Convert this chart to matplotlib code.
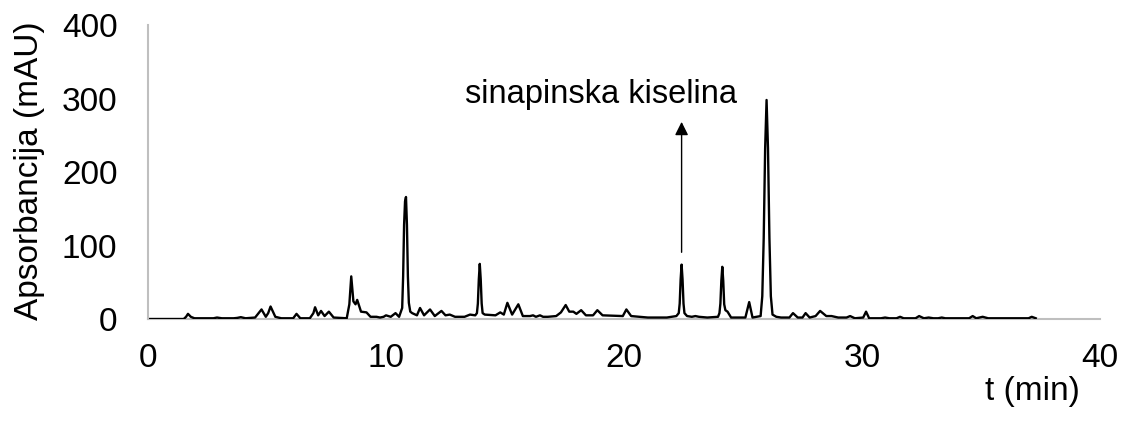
import matplotlib.pyplot as plt

plt.rcParams['font.family'] = ['Liberation Sans', 'DejaVu Sans']

# chromatogram trace (time in min, absorbance in mAU)
t = [0, 1.5, 1.6, 1.68, 1.8, 1.95, 2.5, 2.75, 2.9, 3.1, 3.6, 3.75, 3.9, 4.1, 4.5, 4.65,
     4.77, 4.95, 5.05, 5.15, 5.35, 5.6, 5.9, 6.1, 6.24, 6.4, 6.8, 6.95, 7.02, 7.15, 7.27,
     7.42, 7.6, 7.8, 8.35, 8.46, 8.54, 8.63, 8.72, 8.79, 8.95, 9.18, 9.35, 9.6, 9.75,
     9.9, 10.0, 10.2, 10.4, 10.55, 10.68, 10.72, 10.76, 10.80, 10.84, 10.88, 10.92,
     10.96, 11.02, 11.1, 11.3, 11.43, 11.6, 11.85, 12.05, 12.33, 12.5, 12.68, 12.9,
     13.3, 13.53, 13.75, 13.82, 13.86, 13.9, 13.94, 13.98, 14.02, 14.06, 14.15, 14.6,
     14.8, 14.95, 15.1, 15.3, 15.56, 15.75, 16.05, 16.18, 16.3, 16.47, 16.6, 16.8, 17.15,
     17.35, 17.55, 17.7, 17.87, 18.0, 18.2, 18.4, 18.7, 18.88, 19.1, 19.95, 20.1, 20.3,
     21.0, 21.8, 22.2, 22.3, 22.34, 22.38, 22.42, 22.46, 22.5, 22.54, 22.65, 22.85,
     23.0, 23.15, 23.5, 23.95, 24.01, 24.05, 24.09, 24.13, 24.17, 24.21, 24.26, 24.35,
     24.5, 25.1, 25.26, 25.4, 25.74, 25.81, 25.87, 25.93, 25.99, 26.05, 26.11, 26.17,
     26.24, 26.4, 26.6, 26.95, 27.1, 27.3, 27.5, 27.63, 27.8, 28.05, 28.24, 28.5, 28.72,
     29.0, 29.35, 29.5, 29.7, 30.05, 30.17, 30.3, 30.8, 30.97, 31.15, 31.45, 31.6, 31.75,
     32.25, 32.4, 32.6, 32.8, 33.0, 33.2, 33.35, 33.5, 34.5, 34.65, 34.8, 35.07, 35.3,
     36.2, 37.0, 37.13, 37.3]
mau = [0, 0, 3, 7, 3, 1, 1, 1, 2, 1, 1, 1.5, 2.5, 1, 2, 8,
       13, 3, 8, 17, 3, 1, 1, 1, 7, 1, 1, 8, 16, 5, 11,
       4, 10, 2, 1, 20, 58, 24, 20, 26, 10, 9, 3, 3, 2,
       3, 5, 3, 8, 3, 15, 58, 128, 160, 166, 128, 58,
       22, 10, 8, 5, 15, 5, 13, 4, 11, 5, 6, 3,
       3, 6, 5, 8, 21, 54, 75, 54, 21, 8, 6, 5,
       9, 6, 22, 6, 20, 4, 4, 5, 3, 5, 3, 3, 4,
       9, 19, 10, 10, 7, 12, 5, 5, 12, 5, 4, 13, 4,
       2, 2, 4, 8, 21, 54, 74, 54, 21, 8, 4, 3,
       4, 3, 2, 3, 8, 21, 52, 71, 52, 20, 12, 10,
       2, 2, 23, 2, 4, 31, 110, 232, 298, 232, 110, 31,
       6, 3, 2, 2, 8, 2, 2, 8, 2, 4, 11, 4, 4,
       2, 2, 4, 1, 2, 10, 1, 1, 2, 1, 1, 3, 1,
       1, 4, 1, 2, 1, 1, 2, 1, 1, 4, 1, 3, 1,
       1, 1, 3, 1]

x_ticks = [0, 10, 20, 30, 40]
y_ticks = [0, 100, 200, 300, 400]
label_text = 'sinapinska kiselina'
arrow_x = 22.42

fig = plt.figure(figsize=(11.22, 4.29), dpi=100)
ax = fig.add_axes([0.1319, 0.2564, 0.8485, 0.6853])

ax.plot(t, mau, color='black', lw=1.7, solid_joinstyle='round')

ax.set_xlim(0, 40)
ax.set_ylim(0, 400)
ax.set_xticks(x_ticks)
ax.set_yticks(y_ticks)
ax.tick_params(length=0, labelsize=24, colors='black')
ax.tick_params(axis='x', pad=17)
ax.tick_params(axis='y', pad=22)
for s in ['top', 'right']:
    ax.spines[s].set_visible(False)
for s in ['left', 'bottom']:
    ax.spines[s].set_color('#bfbfbf')
    ax.spines[s].set_linewidth(1.5)
ax.spines['bottom'].set_zorder(0)

ax.set_ylabel('Apsorbancija (mAU)', fontsize=24)
ax.yaxis.set_label_coords(-0.108, 0.505)
ax.set_xlabel('t (min)', fontsize=24, va='center')
ax.xaxis.set_label_coords(0.929, -0.245)

ax.annotate('', xy=(arrow_x, 272), xytext=(arrow_x, 87),
            arrowprops=dict(arrowstyle='-|>', color='black', lw=1, mutation_scale=20))
ax.text(19.04, 305, label_text, fontsize=23.5, ha='center', va='center')

fig.savefig('out.png', dpi=100)
